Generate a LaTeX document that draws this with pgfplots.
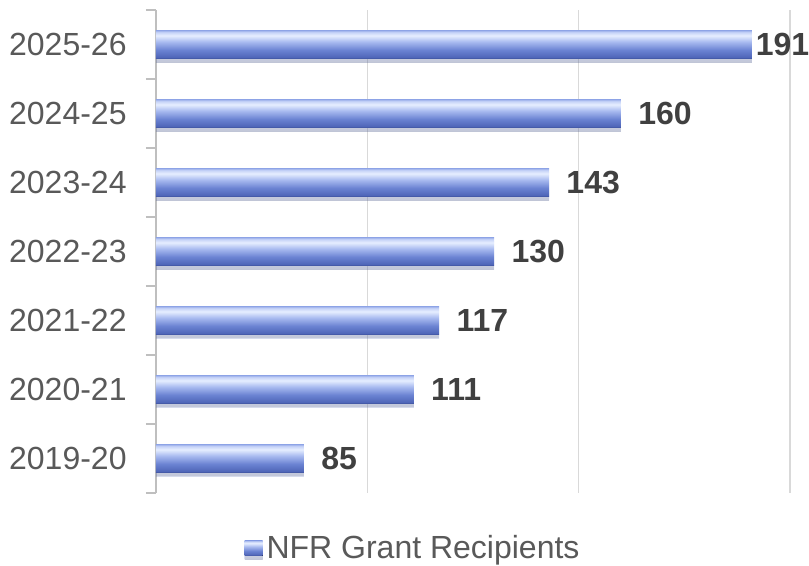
\documentclass[border=0pt]{standalone}
\usepackage{fontspec}
\setmainfont{Liberation Sans}
\usepackage{pgfplots}
\pgfplotsset{compat=1.18}
\usetikzlibrary{shadows}
\definecolor{tickgray}{HTML}{595959}
\definecolor{labgray}{HTML}{404040}
\definecolor{gridgray}{HTML}{D9D9D9}
\definecolor{axgray}{HTML}{BFBFBF}
\definecolor{bs1}{HTML}{3D519C}
\definecolor{bs2}{HTML}{4F66B8}
\definecolor{bs3}{HTML}{6A82D2}
\definecolor{bs4}{HTML}{A9BBF0}
\definecolor{bs5}{HTML}{E6EEFF}
\definecolor{bs6}{HTML}{C5D2F7}
\definecolor{bs7}{HTML}{9AAEEA}
\pgfdeclareverticalshading{barshade}{100bp}{color(0bp)=(bs1); color(25bp)=(bs1); color(27bp)=(bs2); color(40bp)=(bs3); color(55bp)=(bs4); color(66bp)=(bs5); color(72bp)=(bs6); color(75bp)=(bs7); color(100bp)=(bs7)}
\pgfplotsset{
  mybar/.style={draw=none, shading=barshade,
    drop shadow={shadow xshift=0pt, shadow yshift=-2pt, opacity=0.22}},
}
\begin{document}
\begin{tikzpicture}
\useasboundingbox (-78pt,-36.5pt) rectangle (326.5pt,246.5pt);
\begin{axis}[
  at={(0,0)}, anchor=south west,
  scale only axis, width=317pt, height=241.5pt,
  clip mode=individual,
  xbar, bar width=14pt, bar shift=0pt,
  xmin=50, xmax=200,
  xtick={50,100,150,200}, xticklabels={},
  xmajorgrids, grid style={draw=gridgray, line width=0.6pt},
  axis y line*=left, axis x line*=bottom,
  x axis line style={draw=none},
  y axis line style={draw=axgray, line width=0.6pt},
  ymin=-0.5, ymax=6.5,
  ytick={0,1,2,3,4,5,6},
  yticklabels={2019-20,2020-21,2021-22,2022-23,2023-24,2024-25,2025-26},
  minor ytick={-0.5,0.5,1.5,2.5,3.5,4.5,5.5,6.5},
  ytick pos=left, tick align=outside,
  major tick length=0pt, minor tick length=5pt,
  major x tick style={draw=none},
  minor y tick style={draw=axgray, line width=0.6pt},
  yticklabel style={font=\fontsize{16}{19}\selectfont, text=tickgray, inner sep=0pt, xshift=-14.5pt},
  nodes near coords={\pgfmathprintnumber[assume math mode=true]{\pgfplotspointmeta}},
  nodes near coords style={font=\bfseries\fontsize{16}{19}\selectfont, text=labgray, anchor=west, inner sep=0pt, xshift=8.5pt},
  legend style={at={(0.407,-0.114)}, anchor=center, draw=none, fill=none, font=\fontsize{16}{19}\selectfont, text=tickgray, inner sep=0pt},
  legend image code/.code={\fill[shading=barshade] (0pt,-3.75pt) rectangle (9pt,3.75pt);},
]
\addplot[mybar] coordinates {(85,0)};
\addlegendentry{NFR Grant Recipients}
\addplot[mybar, forget plot] coordinates {(111,1)};
\addplot[mybar, forget plot] coordinates {(117,2)};
\addplot[mybar, forget plot] coordinates {(130,3)};
\addplot[mybar, forget plot] coordinates {(143,4)};
\addplot[mybar, forget plot] coordinates {(160,5)};
\addplot[mybar, forget plot, nodes near coords style={xshift=-6.8pt}] coordinates {(191,6)};
\end{axis}
\end{tikzpicture}
\end{document}
